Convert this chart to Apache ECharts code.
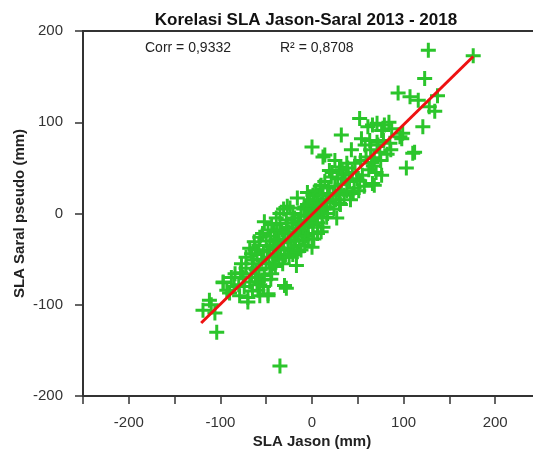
<!DOCTYPE html>
<html>
<head>
    <meta charset="utf-8" />
    <title>Korelasi SLA Jason-Saral</title>
    <script src="https://cdn.jsdelivr.net/npm/echarts@6/dist/echarts.min.js"></script>
    <style>
        *{ margin:0; padding:0; }
        body{ background:#fff; }
        #main{ width:533px; height:450px; }
    </style>
</head>
<body>
<div id="main"></div>
<script type="text/javascript">
    // titik pasangan [SLA Jason, SLA Saral pseudo] dalam mm
    var outerPoints = [
        [127,179],[176,173],[123,148],[94,132],[107,128],[116,124],[128,117],[137,129],[121,95],[134,112],
        [112,67],[103,50],[110,66],[99,88],[96,84],[87,93],[77,91],[71,99],[61,95],[52,104],
        [54,82],[43,70],[32,86],[66,97],[79,97],[76,91],[85,77],[71,78],[58,75],[74,67],
        [68,61],[65,56],[38,55],[25,58],[12,62],[14,64],[0,73],[22,45],[30,51],[19,47],
        [34,42],[52,36],[76,42],[68,31],[66,33],[45,22],[30,11],[63,80],[98,82],[84,100],
        [-35,-167],[-104,-130],[-119,-106],[-110,-100],[-106,-109],[-97,-76],[-70,-97],[-57,-90],[-48,-90],[-28,-82],
        [-90,-87],[-112,-95],[-93,-84],[-84,-66]
    ];
    var corePoints = [
        [-5,23],[-16,17],[6,20],[17,22],[10,31],[-24,6],[-8,7],[5,0],[16,-4],[27,-5],
        [-52,-9],[-35,-11],[-28,-7],[-17,-16],[-41,-20],[-57,-26],[-63,-31],[-68,-38],[-49,-40],[-37,-37],
        [-26,-29],[-10,-29],[0,-37],[1,-22],[10,-20],[-17,-57],[-32,-55],[-41,-46],[-65,-51],[-61,-62],
        [-44,-66],[-55,-73],[-30,-79],[-48,-88],[-59,-84],[-70,-92],[-79,-90],[-97,-75],[1,20],[19,22],
        [16,7],[-3,7],[-21,0]
    ];
    var densePoints = [
        [-75,-70],[-72,-60],[-66,-66],[-64,-55],[-60,-45],[-58,-60],[-55,-50],[-53,-42],[-50,-55],[-50,-30],
        [-47,-48],[-46,-35],[-45,-25],[-43,-55],[-42,-38],[-40,-30],[-38,-45],[-38,-20],[-36,-28],[-34,-40],
        [-33,-18],[-31,-32],[-30,-22],[-29,-45],[-27,-15],[-26,-38],[-25,-20],[-23,-30],[-22,-10],[-20,-25],
        [-20,-40],[-19,-5],[-18,-30],[-16,-22],[-15,-8],[-14,-35],[-13,-12],[-12,-2],[-11,-20],[-10,-15],
        [-9,5],[-8,-10],[-7,-25],[-6,-3],[-5,10],[-4,-15],[-3,-8],[-2,15],[-1,-5],[0,5],
        [1,-12],[2,12],[3,-3],[4,25],[5,8],[6,-10],[7,15],[8,3],[9,30],[10,10],
        [11,-5],[12,20],[13,5],[14,35],[15,15],[17,0],[18,28],[20,12],[21,40],[23,20],
        [24,5],[25,30],[26,15],[28,38],[29,22],[31,10],[32,32],[33,48],[35,20],[36,38],
        [38,25],[39,50],[41,35],[42,15],[44,45],[46,28],[47,55],[49,38],[51,25],[53,58],
        [55,42],[57,30],[59,62],[62,48],[64,70],[67,52],[70,45],[72,75],[75,58],[78,80],
        [82,65],[86,70],[-66,-44],[-62,-40],[-58,-35],[-54,-22],[-48,-18],[-44,-12],[-39,-5],[-35,0],
        [-31,5],[-27,8],[-62,-70],[-57,-78],[-52,-68],[-46,-60],[-40,-58],[-36,-50],[-30,-48],[-25,-48],
        [-21,-45],[-16,-42],[-12,-40],[-8,-35],[-4,-28],[2,-28],[6,-22],[12,-15],[-80,-78],[-85,-80],
        [-77,-55],[-74,-80],[-68,-75],[-88,-70],[-65,-85],[-60,-75],[-53,-80],[-45,-72],[-78,-65],[-72,-48]
    ];
    // garis regresi (ujung-ujung)
    var fitLine = [[-121,-120],[176,172]];
    var xTicks = [-200,-100,0,100,200];
    var corrText = 'Corr = 0,9332';
    var r2Text = 'R\u00B2 = 0,8708';

    var allPoints = outerPoints.concat(corePoints, densePoints);
    var plusPath = 'path://M4,0h2v4h4v2h-4v4h-2v-4h-4v-2h4z';
    var font = 'Liberation Sans, Arial, sans-serif';

    var myChart = echarts.init(document.getElementById('main'));
    var option = {
        animation: false,
        textStyle: { fontFamily: font },
        title: {
            text: 'Korelasi SLA Jason-Saral 2013 - 2018',
            left: 301, top: 7, textAlign: 'center',
            textStyle: { fontSize: 17, fontWeight: 'bold', color: '#111', fontFamily: font }
        },
        grid: {
            left: 83, top: 31, bottom: 54, right: -8,
            outerBoundsMode: 'none',
            show: true, borderColor: '#333', borderWidth: 2, backgroundColor: '#fff'
        },
        graphic: [
            { type: 'text', left: 145, top: 41, style: { text: corrText, fontSize: 14, fill: '#222', fontFamily: font } },
            { type: 'text', left: 280, top: 41, style: { text: r2Text, fontSize: 14, fill: '#222', fontFamily: font } }
        ],
        xAxis: {
            type: 'value', min: -250, max: 250, interval: 50,
            name: 'SLA Jason (mm)', nameLocation: 'middle', nameGap: 38, nameMoveOverlap: false,
            nameTextStyle: { fontSize: 15, fontWeight: 'bold', color: '#222' },
            axisLine: { onZero: false, lineStyle: { color: '#333', width: 2 } },
            axisTick: { length: 8, lineStyle: { color: '#333', width: 1.5 } },
            splitLine: { show: false },
            axisLabel: {
                margin: 19, fontSize: 15, color: '#333',
                formatter: function (v) { return xTicks.indexOf(v) >= 0 ? String(v) : ''; }
            }
        },
        yAxis: {
            type: 'value', min: -200, max: 200, interval: 100,
            name: 'SLA Saral pseudo (mm)', nameLocation: 'middle', nameGap: 56, nameMoveOverlap: false,
            nameTextStyle: { fontSize: 15, fontWeight: 'bold', color: '#222' },
            axisLine: { onZero: false, lineStyle: { color: '#333', width: 2 } },
            axisTick: { length: 8, lineStyle: { color: '#333', width: 1.5 } },
            splitLine: { show: false },
            axisLabel: { margin: 20, fontSize: 15, color: '#333' }
        },
        series: [
            {
                type: 'scatter',
                data: allPoints,
                symbol: plusPath,
                symbolSize: 15,
                itemStyle: { color: '#2bc52b', opacity: 1 },
                z: 2
            },
            {
                type: 'line',
                data: fitLine,
                showSymbol: false,
                lineStyle: { color: '#ee1111', width: 3 },
                z: 3
            }
        ]
    };
    myChart.setOption(option);
</script>
</body>
</html>
